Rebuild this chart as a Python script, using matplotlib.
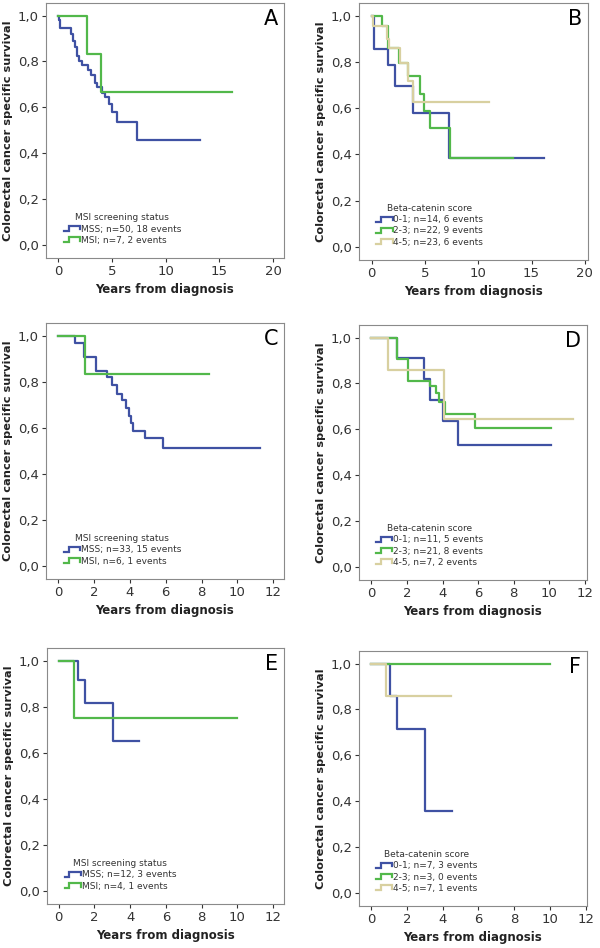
import matplotlib
matplotlib.use("Agg")
import matplotlib.pyplot as plt
from matplotlib.lines import Line2D
from matplotlib.legend_handler import HandlerBase
from matplotlib.ticker import FuncFormatter

BLUE = '#3f51a3'
GREEN = '#52b84a'
BEIGE = '#d8d0a0'

# panel A: MSI status, all patients
a_mss_t = [0.1, 0.2, 1.2, 1.4, 1.6, 1.8, 1.95, 2.25, 2.75, 3.1, 3.45, 3.65, 4.05, 4.35, 4.7, 5.0, 5.45, 7.3]
a_mss_s = [0.98, 0.945, 0.92, 0.89, 0.862, 0.826, 0.804, 0.783, 0.761, 0.74, 0.707, 0.688, 0.664, 0.645, 0.616, 0.58, 0.536, 0.457]
a_mss_end = 13.2
a_msi_t = [2.65, 4.0]
a_msi_s = [0.833, 0.667]
a_msi_end = 16.2

# panel B: beta-catenin score, all patients
b_01_t = [0.2, 1.55, 2.2, 3.9, 7.3]
b_01_s = [0.857, 0.786, 0.694, 0.579, 0.386]
b_01_end = 16.2
b_23_t = [0.95, 1.5, 2.6, 3.4, 4.55, 4.95, 5.5, 7.35]
b_23_s = [0.955, 0.859, 0.795, 0.737, 0.661, 0.586, 0.516, 0.385]
b_23_end = 13.3
b_45_t = [0.15, 1.4, 1.6, 2.65, 3.4, 3.9]
b_45_s = [0.957, 0.90, 0.86, 0.795, 0.716, 0.626]
b_45_end = 11.05

# panel C
c_mss_t = [0.95, 1.45, 2.12, 2.72, 3.0, 3.3, 3.58, 3.77, 3.93, 4.07, 4.16, 4.84, 5.82]
c_mss_s = [0.97, 0.909, 0.848, 0.82, 0.784, 0.748, 0.719, 0.685, 0.65, 0.62, 0.588, 0.555, 0.51]
c_mss_end = 11.27
c_msi_t = [1.47]
c_msi_s = [0.833]
c_msi_end = 8.43

# panel D
d_01_t = [1.44, 2.98, 3.3, 4.0, 4.85]
d_01_s = [0.909, 0.818, 0.727, 0.636, 0.53]
d_01_end = 10.12
d_23_t = [1.42, 2.07, 3.3, 3.63, 3.8, 4.12, 5.8]
d_23_s = [0.905, 0.81, 0.79, 0.76, 0.72, 0.667, 0.605]
d_23_end = 10.12
d_45_t = [0.96, 4.1]
d_45_s = [0.857, 0.643]
d_45_end = 11.34

# panel E
e_mss_t = [1.08, 1.49, 3.03]
e_mss_s = [0.917, 0.815, 0.652]
e_mss_end = 4.52
e_msi_t = [0.84]
e_msi_s = [0.75]
e_msi_end = 10.0

# panel F
f_01_t = [1.04, 1.43, 3.02]
f_01_s = [0.857, 0.714, 0.357]
f_01_end = 4.5
f_23_t = []
f_23_s = []
f_23_end = 10.02
f_45_t = [0.82]
f_45_s = [0.857]
f_45_end = 4.46

msi_labels_a = ['MSS; n=50, 18 events', 'MSI; n=7, 2 events']
msi_labels_c = ['MSS; n=33, 15 events', 'MSI, n=6, 1 events']
msi_labels_e = ['MSS; n=12, 3 events', 'MSI; n=4, 1 events']
bc_labels_b = ['0-1; n=14, 6 events', '2-3; n=22, 9 events', '4-5; n=23, 6 events']
bc_labels_d = ['0-1; n=11, 5 events', '2-3; n=21, 8 events', '4-5, n=7, 2 events']
bc_labels_f = ['0-1; n=7, 3 events', '2-3; n=3, 0 events', '4-5; n=7, 1 events']


class StepHandler(HandlerBase):
    # SPSS style little step glyph in the legend
    def create_artists(self, legend, orig_handle, xdescent, ydescent,
                       width, height, fontsize, trans):
        x0, y0 = -xdescent, -ydescent
        xs = [x0, x0 + 0.3 * width, x0 + 0.3 * width, x0 + width, x0 + width]
        ys = [y0 + 0.1 * height, y0 + 0.1 * height, y0 + 0.9 * height,
              y0 + 0.9 * height, y0 + 0.35 * height]
        ln = Line2D(xs, ys, color=orig_handle.get_color(),
                    lw=orig_handle.get_linewidth(), solid_joinstyle='miter')
        ln.set_transform(trans)
        return [ln]


def km(ax, t, s, end, color, label):
    xs = [0] + t + [end]
    ys = [1.0] + s + [s[-1] if s else 1.0]
    ax.step(xs, ys, where='post', color=color, lw=1.6, label=label)


def setup(ax, xlim, xticks, letter, title, ylab_x):
    ax.set_xlim(*xlim)
    ax.set_ylim(-0.057, 1.055)
    ax.set_xticks(xticks)
    ax.set_yticks([0, 0.2, 0.4, 0.6, 0.8, 1.0])
    ax.yaxis.set_major_formatter(FuncFormatter(lambda v, p: ('%.1f' % v).replace('.', ',')))
    ax.tick_params(labelsize=9.5, colors='#333333', length=3, width=0.8, pad=2)
    for sp in ax.spines.values():
        sp.set_color('#8a8a8a')
        sp.set_linewidth(0.8)
    ax.set_xlabel('Years from diagnosis', fontsize=8.5, fontweight='bold', color='#222222')
    ax.set_ylabel('Colorectal cancer specific survival', fontsize=8.2, fontweight='bold', color='#222222')
    ax.xaxis.set_label_coords(0.5, -0.098)
    ax.yaxis.set_label_coords(ylab_x, 0.5)
    ax.text(0.975, 0.975, letter, transform=ax.transAxes, ha='right', va='top', fontsize=15)
    leg = ax.legend(loc='lower left', bbox_to_anchor=(0.04, 0.02), frameon=False,
                    fontsize=6.5, title=title, title_fontsize=6.5,
                    handlelength=1.8, handletextpad=0.1, labelspacing=0.25,
                    handler_map={Line2D: StepHandler()})
    for txt in leg.get_texts():
        txt.set_color('#333333')
    leg.get_title().set_color('#333333')


fig = plt.figure(figsize=(6, 9.48), dpi=100)
W, H = 600.0, 948.0


def add_ax(left, right, top, bottom):
    return fig.add_axes([left / W, 1 - bottom / H, (right - left) / W, (bottom - top) / H])


axA = add_ax(46, 284, 3, 258)
km(axA, a_mss_t, a_mss_s, a_mss_end, BLUE, msi_labels_a[0])
km(axA, a_msi_t, a_msi_s, a_msi_end, GREEN, msi_labels_a[1])
setup(axA, (-1.12, 21.0), [0, 5, 10, 15, 20], 'A', 'MSI screening status', -0.14)

axB = add_ax(359, 588, 3, 260)
km(axB, b_01_t, b_01_s, b_01_end, BLUE, bc_labels_b[0])
km(axB, b_23_t, b_23_s, b_23_end, GREEN, bc_labels_b[1])
km(axB, b_45_t, b_45_s, b_45_end, BEIGE, bc_labels_b[2])
setup(axB, (-1.19, 20.3), [0, 5, 10, 15, 20], 'B', 'Beta-catenin score', -0.143)

axC = add_ax(46, 284, 323, 579)
km(axC, c_mss_t, c_mss_s, c_mss_end, BLUE, msi_labels_c[0])
km(axC, c_msi_t, c_msi_s, c_msi_end, GREEN, msi_labels_c[1])
setup(axC, (-0.69, 12.6), [0, 2, 4, 6, 8, 10, 12], 'C', 'MSI screening status', -0.14)

axD = add_ax(359, 587, 325, 580)
km(axD, d_01_t, d_01_s, d_01_end, BLUE, bc_labels_d[0])
km(axD, d_23_t, d_23_s, d_23_end, GREEN, bc_labels_d[1])
km(axD, d_45_t, d_45_s, d_45_end, BEIGE, bc_labels_d[2])
setup(axD, (-0.70, 12.13), [0, 2, 4, 6, 8, 10, 12], 'D', 'Beta-catenin score', -0.143)

axE = add_ax(47, 284, 648, 904)
km(axE, e_mss_t, e_mss_s, e_mss_end, BLUE, msi_labels_e[0])
km(axE, e_msi_t, e_msi_s, e_msi_end, GREEN, msi_labels_e[1])
setup(axE, (-0.65, 12.6), [0, 2, 4, 6, 8, 10, 12], 'E', 'MSI screening status', -0.14)

axF = add_ax(359, 587, 651, 906)
km(axF, f_01_t, f_01_s, f_01_end, BLUE, bc_labels_f[0])
km(axF, f_23_t, f_23_s, f_23_end, GREEN, bc_labels_f[1])
km(axF, f_45_t, f_45_s, f_45_end, BEIGE, bc_labels_f[2])
setup(axF, (-0.69, 12.08), [0, 2, 4, 6, 8, 10, 12], 'F', 'Beta-catenin score', -0.143)

fig.savefig('out.png', dpi=100)
